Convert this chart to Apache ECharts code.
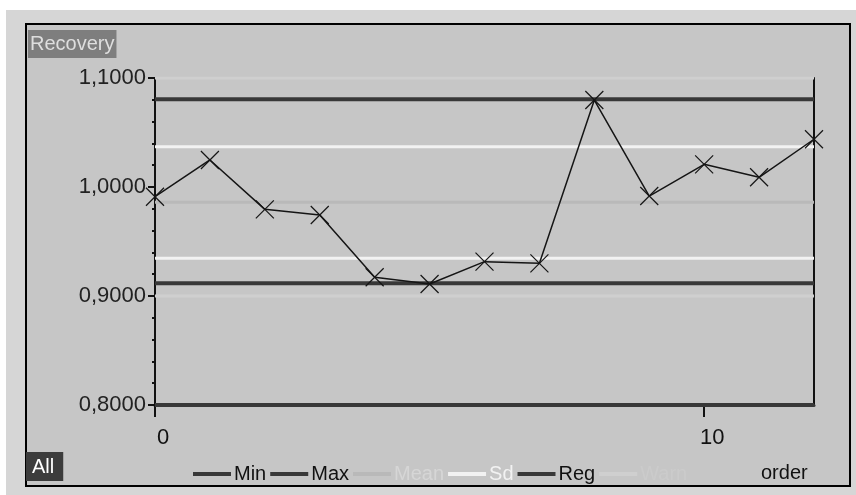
<!DOCTYPE html>
<html>
<head>
<meta charset="utf-8">
<script src="https://cdn.jsdelivr.net/npm/echarts@6/dist/echarts.min.js"></script>
<style>
  html, body { margin: 0; padding: 0; background: #fff; }
  #main { width: 856px; height: 495px; }
</style>
</head>
<body>
<div id="main"></div>
<script>
// data
const orderArr = [0, 1, 2, 3, 4, 5, 6, 7, 8, 9, 10, 11, 12]
const recoveryArr = [0.9911, 1.0248, 0.9795, 0.9743, 0.9172, 0.9110, 0.9315, 0.9300, 1.0798, 0.9917, 1.0208, 1.0089, 1.0438]
const minVal = 0.9117
const maxVal = 1.0805
const meanVal = 0.9860
const sdArr = [1.0370, 0.9346]
const warnArr = [1.1, 0.9]
const regVal = 0.8
const yTicks = [0.8, 0.9, 1.0, 1.1]
const xTicks = [0, 10]

const font = '"Liberation Sans", Arial, sans-serif'
var chart = echarts.init(document.getElementById('main'), null, { renderer: 'canvas' })

// horizontal reference line over the full order range
function hline(name, val, color, width){
  return {
    name: name,
    type: 'line',
    data: [[orderArr[0], val], [orderArr[orderArr.length - 1], val]],
    symbol: 'none',
    silent: true,
    color: color,
    lineStyle: { color: color, width: width },
    z: 3
  }
}

var series = [
  hline('Min', minVal, '#383838', 4),
  hline('Max', maxVal, '#383838', 4),
  hline('Mean', meanVal, '#b9b9b9', 3),
  hline('Sd', sdArr[0], '#f2f2f2', 3),
  hline('Sd', sdArr[1], '#f2f2f2', 3),
  hline('Reg', regVal, '#383838', 4),
  hline('Warn', warnArr[0], '#cfcfcf', 3),
  hline('Warn', warnArr[1], '#cfcfcf', 3),
  {
    name: 'Recovery',
    type: 'line',
    data: orderArr.map((o, i) => [o, recoveryArr[i]]),
    symbol: 'path://M0 0L20 20M20 0L0 20',
    symbolSize: 18,
    itemStyle: { color: 'transparent', borderColor: '#151515', borderWidth: 1.2 },
    lineStyle: { color: '#151515', width: 1.5 },
    z: 5
  }
]

chart.setOption({
  animation: false,
  backgroundColor: '#ffffff',
  graphic: [
    // outer frame + panel
    { type: 'rect', shape: { x: 6, y: 10, width: 850, height: 485 }, style: { fill: '#d6d6d6' }, z: -10 },
    { type: 'rect', shape: { x: 26, y: 24, width: 824, height: 462 }, style: { fill: '#c6c6c6', stroke: '#000', lineWidth: 2 }, z: -9 },
    { type: 'text', left: 761, top: 463, style: { text: 'order', fill: '#111', font: '20px ' + font }, z: 10 }
  ],
  title: [
    {
      text: 'Recovery', left: 28, top: 30, padding: [4, 2, 4, 2],
      backgroundColor: '#7e7e7e',
      textStyle: { color: '#dedede', fontSize: 20, fontWeight: 'normal', fontFamily: font }
    },
    {
      text: 'All', left: 26, top: 452, padding: [5, 9, 4, 6],
      backgroundColor: '#3c3c3c',
      textStyle: { color: '#ffffff', fontSize: 20, fontWeight: 'normal', fontFamily: font }
    }
  ],
  legend: {
    left: 188, top: 459,
    icon: 'rect', itemWidth: 38, itemHeight: 4, itemGap: 4,
    textStyle: { fontSize: 20, fontFamily: font, color: '#111', padding: [0, 0, 0, -2] },
    data: [
      { name: 'Min' },
      { name: 'Max' },
      { name: 'Mean', textStyle: { color: '#d6d6d6' } },
      { name: 'Sd', textStyle: { color: '#f2f2f2' } },
      { name: 'Reg' },
      { name: 'Warn', textStyle: { color: '#cbcbcb' } }
    ]
  },
  grid: { left: 155, right: 42, top: 78, bottom: 90 },
  xAxis: {
    type: 'value', min: 0, max: 12,
    axisLine: { show: true, lineStyle: { color: '#383838', width: 3 } },
    axisTick: { show: true, length: 12, customValues: xTicks, lineStyle: { color: '#111', width: 2 } },
    axisLabel: {
      customValues: xTicks, margin: 22, padding: [0, 0, 0, 16],
      color: '#111', fontSize: 22, fontFamily: font
    },
    splitLine: { show: false }
  },
  yAxis: [
    {
      type: 'value', min: 0.8, max: 1.1, interval: 0.1,
      axisLine: { show: true, lineStyle: { color: '#111', width: 2 } },
      axisTick: { show: true, length: 7, customValues: yTicks, lineStyle: { color: '#111', width: 2 } },
      minorTick: { show: true, splitNumber: 5, length: 3, lineStyle: { color: '#111', width: 2 } },
      axisLabel: {
        customValues: yTicks, margin: 9, color: '#222', fontSize: 22, fontFamily: font,
        formatter: v => v.toFixed(4).replace('.', ',')
      },
      splitLine: { show: false }
    },
    {
      // right border of the plot
      type: 'value', position: 'right', min: 0.8, max: 1.1,
      axisLine: { show: true, lineStyle: { color: '#111', width: 2 } },
      axisTick: { show: false }, axisLabel: { show: false }, splitLine: { show: false }
    }
  ],
  series: series
})
</script>
</body>
</html>
